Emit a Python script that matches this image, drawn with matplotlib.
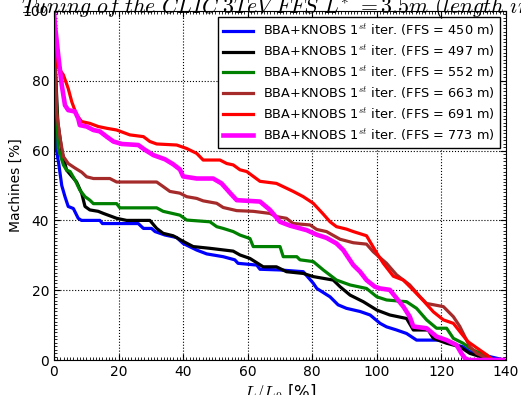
import matplotlib
matplotlib.use("Agg")
import matplotlib.pyplot as plt
from matplotlib.ticker import MultipleLocator

# FFS lengths shown in the legend
ffs_lengths = [450, 497, 552, 663, 691, 773]
colors = ["blue", "black", "green", "brown", "red", "magenta"]

# L/L0 [%] and machines [%]
x_450 = [0, 0.3, 0.8, 1.5, 2.4, 3.4, 4.4, 6, 7.5, 8.5, 14.2, 15, 26.1, 27.7, 30.2, 31.3,
         34.4, 38, 40, 44.2, 47.3, 52.4, 56, 57, 62.8, 63.8, 70, 77.2, 80.3, 81.4, 85.5,
         88, 90.6, 94.8, 97.9, 101, 103, 106.1, 109.2, 112.3, 119.5, 122.6, 126.7, 128.8,
         133, 137.1, 139.5]
y_450 = [100, 80, 60, 56, 50, 46.8, 44, 43.4, 40.6, 40, 40, 39.1, 39.1, 37.7, 37.7, 36.8,
         35.8, 35.1, 33.4, 31.5, 30.4, 29.6, 28.7, 27.7, 27.2, 26, 25.8, 25.3, 22, 20.5, 18.1,
         15.8, 14.8, 13.9, 12.9, 10.5, 9.5, 8.6, 7.6, 5.7, 5.7, 4.8, 3.8, 2.4,
         1.4, 0.5, 0]

x_497 = [0, 0.5, 1.2, 2.4, 3.9, 7, 8.6, 9.6, 11.1, 13.7, 15.3, 19.4, 22.5, 29.7, 31.8, 33.8,
         36.9, 40, 43.1, 48.3, 55.5, 57.6, 60.7, 64.8, 68.9, 72, 77.2, 80.3, 86.5, 88.6, 91.7,
         95.8, 100, 104, 109.2, 111.3, 115.9, 117.5, 121.6, 125.7, 128.8, 131.9, 135]
y_497 = [100, 82, 68, 60, 54.4, 51, 47.7, 44, 43, 42.6, 42, 40.6, 40, 40, 37.7, 36.3,
         35.6, 34, 32.5, 32, 31.2, 30.1, 29.1, 26.7, 26.7, 25.3, 24.8, 23.9, 22.9, 21, 18.6,
         16.7, 14.3, 12.9, 11.9, 8.6, 8.6, 6.2, 4.8, 3.8, 1.9, 1, 0]

x_552 = [0, 0.5, 1.3, 2.9, 3.9, 5, 6.5, 8, 9.6, 11.1, 12.2, 19.4, 20.4, 31.8, 33.8, 39,
         41.1, 48.3, 50.4, 52.4, 55.5, 57.6, 60.7, 61.7, 70, 71, 75.2, 76.2, 80.3, 83.4, 87.5,
         91.7, 96.8, 100, 103, 109.2, 112.3, 115.4, 118.5, 121.6, 123.7, 126.7, 128.8, 130.9,
         134, 135.5]
y_552 = [100, 80, 60.6, 55.9, 54.4, 54, 51.6, 48.7, 46.8, 45.8, 44.8, 44.8, 43.6, 43.6, 42.6, 41.5,
         40.1, 39.6, 38.2, 37.7, 36.8, 35.8, 34.8, 32.5, 32.5, 29.6, 29.6, 28.7, 28.2, 25.8, 22.9,
         21.5, 20.5, 18.1, 17.2, 16.7, 14.8, 11.5, 9.1, 9.1, 6.2, 4.8, 3.4, 2.4,
         1.4, 0]

x_663 = [0, 0.4, 0.8, 1.9, 2.9, 4.4, 6.5, 8.6, 10.1, 12.2, 17.3, 19.4, 31.8, 33.8, 35.9, 39,
         41.1, 44.2, 46.2, 50.4, 52.4, 56.6, 61.7, 66.9, 68.9, 72, 74.1, 79.3, 81.4, 84.4, 88.6,
         92.7, 96.8, 98.9, 103, 106.1, 110.2, 113.4, 115.4, 120.6, 123.7, 125.7, 128.8, 130.9,
         133, 134.5]
y_663 = [100, 85, 71, 63.5, 58.3, 56.3, 55, 53.8, 52.5, 52, 52, 51, 51, 49.7, 48.3, 47.8,
         46.8, 46.3, 45.6, 44.9, 43.7, 42.8, 42.6, 42, 41.1, 40.6, 39.1, 38.7, 37.4, 36.8, 34.6,
         33.6, 33.2, 31, 27.7, 24.4, 21.5, 18.1, 16.2, 15.3, 12.4, 9.6, 3.8, 1.9,
         1, 0]

x_691 = [0, 0.8, 2.9, 4.4, 5.5, 7, 8.6, 11.1, 13.7, 16.3, 19.4, 23.5, 27.7, 29.7, 31.8, 38,
         41.1, 44.2, 46.2, 51.4, 53.5, 55.5, 57.6, 59.7, 63.8, 68.9, 74.1, 77.2, 80.3, 83.4, 85.5,
         87.5, 90.6, 92.7, 96.8, 100, 102, 105.1, 108.2, 111.3, 114.4, 117.5, 120.6, 123.7, 126.7,
         128.3, 130.9, 134, 136]
y_691 = [100, 84.5, 81.7, 77.8, 74, 70.2, 68.3, 67.8, 66.9, 66.4, 65.9, 64.5, 64, 62.6, 61.9, 61.6,
         60.6, 59.2, 57.3, 57.3, 56.3, 55.9, 54.5, 54, 51.2, 50.6, 48.3, 46.8, 44.9, 41.8, 39.6,
         38.2, 37.5, 36.8, 35.6, 30.6, 27.7, 24, 22.9, 20, 17, 13.8, 11.5, 10.5, 7,
         5.2, 3.5, 1.5, 0]

x_773 = [0, 0.3, 1.3, 2.4, 3.4, 4.4, 6.5, 7.5, 8, 10.1, 12.2, 14.2, 16.3, 18.4, 21, 26.1,
         28.2, 30.8, 34.4, 36.9, 39, 40, 44.2, 49.3, 51.9, 54.5, 56.6, 63.8, 66.9, 70, 73.1,
         78.3, 81.4, 84.4, 87.5, 89.6, 90.6, 92.7, 94.8, 96.8, 99.4, 101, 104, 106.1, 108.2,
         110.2, 111.3, 115.4, 118.5, 121.6, 124.7, 126.2, 127.3, 128.5, 139]
y_773 = [100, 96, 87.4, 78.8, 73, 71.6, 71.2, 69.2, 67.3, 66.9, 65.9, 65.5, 64, 62.6, 61.9, 61.6,
         60.2, 58.7, 57.5, 56.1, 54.6, 52.6, 52, 52, 50.6, 47.9, 45.8, 45.4, 43, 39.6, 38.5,
         37.2, 35.9, 35, 33.4, 31.5, 30.1, 27.2, 25.3, 22.9, 21, 20.5, 20.1, 17.7, 15.3,
         12.4, 9.6, 9.1, 6.7, 5.7, 4.3, 1.9, 0.5, 0, 0]

curves = [(x_450, y_450), (x_497, y_497), (x_552, y_552),
          (x_663, y_663), (x_691, y_691), (x_773, y_773)]
widths = [2.3, 2.3, 2.3, 2.3, 2.3, 3.3]

plt.rcParams["xtick.direction"] = "in"
plt.rcParams["ytick.direction"] = "in"
plt.rcParams["xtick.top"] = True
plt.rcParams["ytick.right"] = True
plt.rcParams["mathtext.fontset"] = "cm"

fig = plt.figure(figsize=(5.21, 3.95), dpi=100)
ax = fig.add_axes([54 / 521, 35 / 395, 452 / 521, 349 / 395])

for (xs, ys), c, lw, L in zip(curves, colors, widths, ffs_lengths):
    ax.plot(xs, ys, color=c, linewidth=lw,
            label=r"BBA+KNOBS 1$^{st}$ iter. (FFS = %d m)" % L)

ax.set_xlim(0, 140)
ax.set_ylim(0, 100)
ax.xaxis.set_major_locator(MultipleLocator(20))
ax.yaxis.set_major_locator(MultipleLocator(20))
ax.xaxis.set_minor_locator(MultipleLocator(1))
ax.yaxis.set_minor_locator(MultipleLocator(1))
ax.tick_params(which="major", length=4, labelsize=10)
ax.tick_params(which="minor", length=2)
ax.grid(True, which="major", linestyle=":", color="black", linewidth=0.8)

ax.set_xlabel(r"$L/L_0$ [%]", fontsize=12, labelpad=2)
ax.set_ylabel("Machines [%]", fontsize=10, labelpad=0)

leg = ax.legend(loc="upper right", fontsize=9.3, fancybox=False, framealpha=1,
                handlelength=2.3, borderaxespad=0.45, labelspacing=0.36)
leg.get_frame().set_edgecolor("black")

# title sits partly above the figure edge, as in the cropped original
fig.text(21 / 521, 1 - 13 / 395,
         r"$Tuning\ of\ the\ CLIC\ 3TeV\ FFS\ L^{*}\ =3.5m\ (length\ increased)$",
         fontsize=15.7, ha="left", va="baseline")

fig.savefig("out.png", dpi=100)
